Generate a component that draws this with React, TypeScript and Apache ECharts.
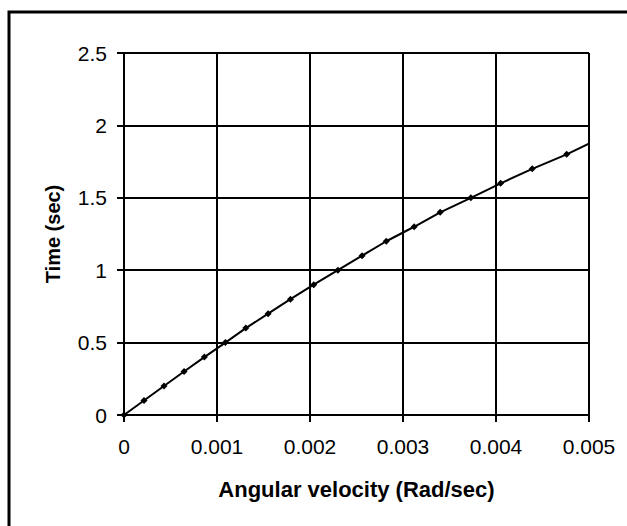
import React, { useEffect, useRef } from "react";
import * as echarts from "echarts";

const angularVelocity = [
  0, 0.000215, 0.00043, 0.000646, 0.000864, 0.00109, 0.00131, 0.00155, 0.00179, 0.00204,
  0.0023, 0.00256, 0.00282, 0.00312, 0.0034, 0.00373, 0.00405, 0.00439, 0.00476, 0.00508,
];
const timeSec = [
  0, 0.1, 0.2, 0.3, 0.4, 0.5, 0.6, 0.7, 0.8, 0.9,
  1.0, 1.1, 1.2, 1.3, 1.4, 1.5, 1.6, 1.7, 1.8, 1.9,
];
const xTitle = "Angular velocity (Rad/sec)";
const yTitle = "Time (sec)";

export default function App() {
  const ref = useRef<HTMLDivElement>(null);
  useEffect(() => {
    document.body.style.margin = "0";
    const chart = echarts.init(ref.current!, null, { renderer: "svg" });
    const font = "Liberation Sans, Arial, sans-serif";
    chart.setOption({
      animation: false,
      backgroundColor: "#fff",
      graphic: [
        {
          type: "rect",
          shape: { x: 9, y: 12, width: 800, height: 700 },
          style: { fill: "none", stroke: "#000", lineWidth: 3 },
          z: 0,
        },
      ],
      grid: { left: 124, top: 53, width: 465, height: 362, containLabel: false },
      xAxis: {
        type: "value",
        min: 0,
        max: 0.005,
        interval: 0.001,
        name: xTitle,
        nameLocation: "middle",
        nameGap: 63,
        nameTextStyle: { fontFamily: font, fontSize: 22, fontWeight: "bold", color: "#000" },
        axisLine: { show: true, lineStyle: { color: "#000", width: 2 } },
        axisTick: { show: true, inside: false, length: 7, lineStyle: { color: "#000", width: 2 } },
        axisLabel: { fontFamily: font, fontSize: 21, color: "#000", margin: 21 },
        splitLine: { show: true, lineStyle: { color: "#000", width: 2 } },
      },
      yAxis: {
        type: "value",
        min: 0,
        max: 2.5,
        interval: 0.5,
        name: yTitle,
        nameLocation: "middle",
        nameGap: 61,
        nameRotate: 90,
        nameTextStyle: { fontFamily: font, fontSize: 20, fontWeight: "bold", color: "#000" },
        axisLine: { show: true, lineStyle: { color: "#000", width: 2 } },
        axisTick: { show: true, inside: false, length: 7, lineStyle: { color: "#000", width: 2 } },
        axisLabel: { fontFamily: font, fontSize: 21, color: "#000", margin: 17 },
        splitLine: { show: true, lineStyle: { color: "#000", width: 2 } },
      },
      series: [
        {
          type: "line",
          data: angularVelocity.map((v, i) => [v, timeSec[i]]),
          clip: true,
          symbol: "diamond",
          symbolSize: 7,
          showSymbol: true,
          itemStyle: { color: "#000" },
          lineStyle: { color: "#000", width: 2 },
        },
      ],
    });
    return () => chart.dispose();
  }, []);
  return <div ref={ref} style={{ width: 627, height: 526 }} />;
}
